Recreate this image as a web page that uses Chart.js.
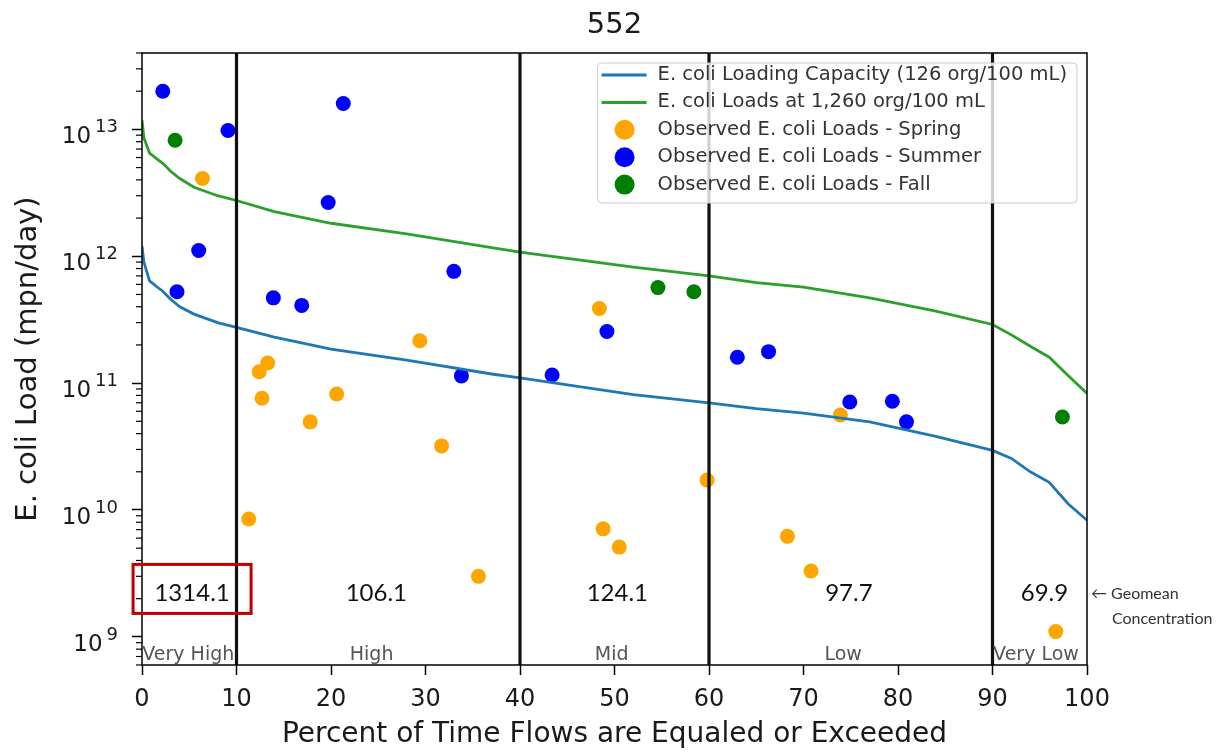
<!DOCTYPE html>
<html>
<head>
<meta charset="utf-8">
<title>552 - E. coli load duration curve</title>
<script src="https://cdn.jsdelivr.net/npm/chart.js@4.4.1/dist/chart.umd.min.js"></script>
<style>
  html, body { margin: 0; padding: 0; background: #fff; }
  #wrap { width: 1224px; height: 753px; position: relative; }
</style>
</head>
<body>
<div id="wrap"><canvas id="ldc"></canvas></div>
<script>
// ---- data ----
const curvePct = [0, 0.2, 0.8, 1.5, 2.2, 3, 4, 5.5, 8, 10, 14, 20, 28, 37, 40, 52, 60, 65, 70, 77, 84, 90, 92, 94, 96, 98, 100];
const capacityLoad = [1.2e12, 9.0e11, 6.4e11, 5.8e11, 5.3e11, 4.6e11, 4.0e11, 3.5e11, 3.0e11, 2.75e11, 2.3e11, 1.85e11, 1.52e11, 1.18e11, 1.1e11, 8.1e10, 7.0e10, 6.3e10, 5.8e10, 4.95e10, 3.8e10, 2.95e10, 2.55e10, 2.0e10, 1.65e10, 1.12e10, 8.3e9];
const load1260 = [1.18e13, 8.6e12, 6.5e12, 5.9e12, 5.4e12, 4.7e12, 4.1e12, 3.5e12, 3.0e12, 2.75e12, 2.25e12, 1.82e12, 1.5e12, 1.17e12, 1.08e12, 8.2e11, 7.0e11, 6.2e11, 5.7e11, 4.7e11, 3.7e11, 2.9e11, 2.4e11, 1.95e11, 1.6e11, 1.15e11, 8.3e10];

const springPct = [6.4, 12.4, 13.3, 12.7, 17.8, 20.6, 29.4, 31.7, 11.3, 35.6, 48.4, 48.8, 50.5, 59.8, 68.3, 70.8, 73.9, 96.7];
const springLoad = [4.1e12, 1.23e11, 1.44e11, 7.6e10, 4.95e10, 8.2e10, 2.16e11, 3.2e10, 8.5e9, 3.0e9, 3.87e11, 7.1e9, 5.1e9, 1.72e10, 6.2e9, 3.3e9, 5.6e10, 1.1e9];
const summerPct = [2.2, 9.1, 21.3, 19.7, 6.0, 3.7, 13.9, 16.9, 33.0, 33.8, 43.4, 49.2, 63.0, 66.3, 74.9, 79.4, 80.9];
const summerLoad = [2.0e13, 9.8e12, 1.6e13, 2.65e12, 1.11e12, 5.25e11, 4.7e11, 4.1e11, 7.6e11, 1.14e11, 1.16e11, 2.55e11, 1.6e11, 1.77e11, 7.1e10, 7.2e10, 4.95e10];
const fallPct = [3.5, 54.6, 58.4, 97.4];
const fallLoad = [8.2e12, 5.66e11, 5.25e11, 5.4e10];

const xTicks = [0, 10, 20, 30, 40, 50, 60, 70, 80, 90, 100];
const yTicks = [1e9, 1e10, 1e11, 1e12, 1e13];
const yMin = 6.0e8;
const yMax = 4.0e13;

const zoneBreaks = [10, 40, 60, 90];
const zoneNames = ['Very High', 'High', 'Mid', 'Low', 'Very Low'];
const zoneNamePct = [4.9, 24.3, 49.7, 74.2, 94.6];
const zoneNameLoad = 7.2e8;
const geomeanLabels = ['1314.1', '106.1', '124.1', '97.7', '69.9'];
const geomeanPct = [5.3, 24.8, 50.3, 74.8, 95.5];
const geomeanLoad = 2.2e9;

const seriesNames = [
    'E. coli Loading Capacity (126 org/100 mL)',
    'E. coli Loads at 1,260 org/100 mL',
    'Observed E. coli Loads - Spring',
    'Observed E. coli Loads - Summer',
    'Observed E. coli Loads - Fall'
];

const BLUE_LINE = '#1f77b4';
const GREEN_LINE = '#2ca02c';
const AXIS_FONT = '"DejaVu Sans", sans-serif';
const NOTE_FONT = 'Lato, "Open Sans", sans-serif';

function pairs(xs, ys) {
    return xs.map((x, i) => ({ x: x, y: ys[i] }));
}

// ---- extra drawing: zone lines, frame, notes, legend ----
const ldcDecor = {
    id: 'ldcDecor',
    afterDatasetsDraw(chart) {
        const ctx = chart.ctx;
        const area = chart.chartArea;
        const xs = chart.scales.x;
        const ys = chart.scales.y;

        ctx.save();

        // flow-zone boundaries
        ctx.strokeStyle = '#111';
        ctx.lineWidth = 3.2;
        zoneBreaks.forEach(b => {
            const px = xs.getPixelForValue(b);
            ctx.beginPath();
            ctx.moveTo(px, area.top);
            ctx.lineTo(px, area.bottom);
            ctx.stroke();
        });

        // frame (spines)
        ctx.strokeStyle = '#000';
        ctx.lineWidth = 1.5;
        ctx.strokeRect(area.left, area.top, area.right - area.left, area.bottom - area.top);

        // minor log ticks on the y axis
        ctx.lineWidth = 1.2;
        for (let e = 8; e <= 13; e++) {
            for (let m = 2; m <= 9; m++) {
                const v = m * Math.pow(10, e);
                if (v < yMin || v > yMax) continue;
                const py = ys.getPixelForValue(v);
                ctx.beginPath();
                ctx.moveTo(area.left - 6, py);
                ctx.lineTo(area.left, py);
                ctx.stroke();
            }
        }

        // y tick labels as 10 with superscript exponent
        ctx.fillStyle = '#1a1a1a';
        ctx.textAlign = 'left';
        ctx.textBaseline = 'alphabetic';
        yTicks.forEach(v => {
            const py = ys.getPixelForValue(v);
            const exp = String(Math.round(Math.log10(v)));
            ctx.font = '18px ' + AXIS_FONT;
            const ew = ctx.measureText(exp).width;
            const right = area.left - 24;
            ctx.fillText(exp, right - ew, py + 3);
            ctx.font = '23px ' + AXIS_FONT;
            const bw = ctx.measureText('10').width;
            ctx.fillText('10', right - ew - bw - 4, py + 14);
        });

        // zone names
        ctx.fillStyle = '#555';
        ctx.font = '19px ' + AXIS_FONT;
        ctx.textAlign = 'center';
        ctx.textBaseline = 'middle';
        zoneNames.forEach((name, i) => {
            ctx.fillText(name, xs.getPixelForValue(zoneNamePct[i]), ys.getPixelForValue(zoneNameLoad));
        });

        // geomean concentrations
        ctx.fillStyle = '#111';
        ctx.font = '24px ' + NOTE_FONT;
        geomeanLabels.forEach((txt, i) => {
            ctx.fillText(txt, xs.getPixelForValue(geomeanPct[i]), ys.getPixelForValue(geomeanLoad));
        });

        // red highlight box round the first geomean
        const bx = xs.getPixelForValue(geomeanPct[0]);
        const by = ys.getPixelForValue(geomeanLoad);
        ctx.strokeStyle = '#c00000';
        ctx.lineWidth = 3;
        ctx.strokeRect(bx - 59, by - 29, 118, 49);

        // side note
        ctx.fillStyle = '#333';
        ctx.font = '16px ' + NOTE_FONT;
        ctx.textAlign = 'left';
        ctx.fillText('\u2190 Geomean', area.right + 4, by);
        ctx.fillText('Concentration', area.right + 25, by + 25);

        // legend
        const rowH = 27.4;
        ctx.font = '19.5px ' + AXIS_FONT;
        let tw = 0;
        seriesNames.forEach(n => { tw = Math.max(tw, ctx.measureText(n).width); });
        const lw = 60 + tw + 10;
        const lh = 140;
        const lx = area.right - 10 - lw;
        const ly = area.top + 10;
        ctx.fillStyle = 'rgba(255,255,255,0.8)';
        ctx.strokeStyle = '#cccccc';
        ctx.lineWidth = 1;
        ctx.beginPath();
        ctx.roundRect(lx, ly, lw, lh, 4);
        ctx.fill();
        ctx.stroke();

        const swatch = [BLUE_LINE, GREEN_LINE, '#ffa500', '#0000ff', '#008000'];
        seriesNames.forEach((name, i) => {
            const ry = ly + 12 + i * rowH;
            if (i < 2) {
                ctx.strokeStyle = swatch[i];
                ctx.lineWidth = 3;
                ctx.beginPath();
                ctx.moveTo(lx + 4, ry);
                ctx.lineTo(lx + 49, ry);
                ctx.stroke();
            } else {
                ctx.fillStyle = swatch[i];
                ctx.beginPath();
                ctx.arc(lx + 27, ry, 10, 0, Math.PI * 2);
                ctx.fill();
            }
            ctx.fillStyle = '#333';
            ctx.textAlign = 'left';
            ctx.textBaseline = 'middle';
            ctx.fillText(name, lx + 60, ry);
        });

        ctx.restore();
    },
    afterDraw(chart) {
        const ctx = chart.ctx;
        const area = chart.chartArea;
        const cx = (area.left + area.right) / 2;
        ctx.save();
        ctx.fillStyle = '#1a1a1a';
        ctx.textAlign = 'center';
        ctx.textBaseline = 'middle';

        ctx.font = '29px ' + AXIS_FONT;
        ctx.fillText('552', cx, 25);

        ctx.font = '28px ' + AXIS_FONT;
        ctx.fillText('Percent of Time Flows are Equaled or Exceeded', cx, 735);

        ctx.font = '29px ' + AXIS_FONT;
        ctx.translate(28, (area.top + area.bottom) / 2);
        ctx.rotate(-Math.PI / 2);
        ctx.fillText('E. coli Load (mpn/day)', 0, 0);
        ctx.restore();
    }
};

const ctx = document.getElementById('ldc').getContext('2d');

new Chart(ctx, {
    type: 'scatter',
    data: {
        datasets: [
            {
                label: seriesNames[0],
                data: pairs(curvePct, capacityLoad),
                showLine: true,
                borderColor: BLUE_LINE,
                borderWidth: 2.8,
                pointRadius: 0,
                tension: 0
            },
            {
                label: seriesNames[1],
                data: pairs(curvePct, load1260),
                showLine: true,
                borderColor: GREEN_LINE,
                borderWidth: 2.8,
                pointRadius: 0,
                tension: 0
            },
            {
                label: seriesNames[2],
                data: pairs(springPct, springLoad),
                backgroundColor: '#ffa500',
                borderWidth: 0,
                pointRadius: 7.5
            },
            {
                label: seriesNames[3],
                data: pairs(summerPct, summerLoad),
                backgroundColor: '#0000ff',
                borderWidth: 0,
                pointRadius: 7.5
            },
            {
                label: seriesNames[4],
                data: pairs(fallPct, fallLoad),
                backgroundColor: '#008000',
                borderWidth: 0,
                pointRadius: 7.5
            }
        ]
    },
    options: {
        responsive: true,
        maintainAspectRatio: false,
        devicePixelRatio: 1,
        animation: false,
        layout: {
            padding: { top: 53, right: 137, left: 0, bottom: 0 }
        },
        plugins: {
            legend: { display: false },
            title: { display: false },
            tooltip: { enabled: false }
        },
        scales: {
            x: {
                type: 'linear',
                min: 0,
                max: 100,
                afterBuildTicks: function(scale) {
                    scale.ticks = xTicks.map(v => ({ value: v }));
                },
                afterFit: function(scale) {
                    scale.height = 88;
                },
                grid: {
                    drawOnChartArea: false,
                    drawTicks: true,
                    tickLength: 10,
                    tickColor: '#000',
                    tickWidth: 1.5
                },
                border: { display: false },
                ticks: {
                    autoSkip: false,
                    maxRotation: 0,
                    padding: 10,
                    color: '#1a1a1a',
                    font: { family: 'DejaVu Sans', size: 24 }
                }
            },
            y: {
                type: 'logarithmic',
                min: yMin,
                max: yMax,
                afterBuildTicks: function(scale) {
                    scale.ticks = yTicks.map(v => ({ value: v }));
                },
                afterFit: function(scale) {
                    scale.width = 142;
                },
                grid: {
                    drawOnChartArea: false,
                    drawTicks: true,
                    tickLength: 10,
                    tickColor: '#000',
                    tickWidth: 1.5
                },
                border: { display: false },
                ticks: { display: false }
            }
        }
    },
    plugins: [ldcDecor]
});
</script>
</body>
</html>
